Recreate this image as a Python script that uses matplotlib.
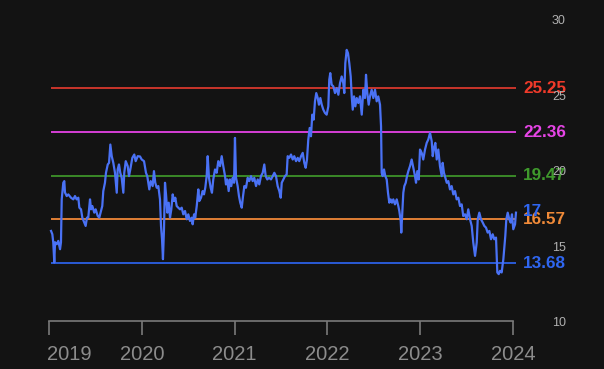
import matplotlib
matplotlib.use("Agg")
import matplotlib.pyplot as plt
import matplotlib.transforms as mtransforms

# decimal-year time axis and price values
t = [2019.022, 2019.036, 2019.046, 2019.057, 2019.065, 2019.083, 2019.100, 2019.119, 2019.129, 2019.137,
     2019.154, 2019.165, 2019.172, 2019.191, 2019.208, 2019.237, 2019.262, 2019.280, 2019.298, 2019.316,
     2019.327, 2019.345, 2019.359, 2019.380, 2019.395, 2019.409, 2019.423, 2019.442, 2019.453, 2019.467,
     2019.488, 2019.503, 2019.525, 2019.542, 2019.560, 2019.574, 2019.585, 2019.603, 2019.614, 2019.633,
     2019.647, 2019.661, 2019.676, 2019.693, 2019.711, 2019.730, 2019.740, 2019.754, 2019.768, 2019.783,
     2019.801, 2019.811, 2019.827, 2019.848, 2019.862, 2019.876, 2019.898, 2019.919, 2019.934, 2019.956,
     2019.981, 2019.999, 2020.024, 2020.045, 2020.059, 2020.081, 2020.096, 2020.117, 2020.131, 2020.145,
     2020.161, 2020.178, 2020.196, 2020.207, 2020.218, 2020.228, 2020.239, 2020.250, 2020.261, 2020.275,
     2020.290, 2020.304, 2020.318, 2020.333, 2020.347, 2020.361, 2020.376, 2020.393, 2020.412, 2020.430,
     2020.447, 2020.466, 2020.484, 2020.501, 2020.519, 2020.538, 2020.548, 2020.563, 2020.576, 2020.592,
     2020.609, 2020.620, 2020.638, 2020.656, 2020.670, 2020.684, 2020.699, 2020.710, 2020.724, 2020.742,
     2020.756, 2020.770, 2020.789, 2020.807, 2020.824, 2020.843, 2020.861, 2020.878, 2020.897, 2020.907,
     2020.921, 2020.936, 2020.950, 2020.964, 2020.980, 2020.994, 2021.004, 2021.015, 2021.033, 2021.047,
     2021.061, 2021.077, 2021.091, 2021.105, 2021.123, 2021.141, 2021.158, 2021.177, 2021.195, 2021.212,
     2021.231, 2021.249, 2021.266, 2021.284, 2021.303, 2021.320, 2021.335, 2021.352, 2021.371, 2021.392,
     2021.411, 2021.428, 2021.446, 2021.464, 2021.482, 2021.497, 2021.508, 2021.525, 2021.543, 2021.561,
     2021.572, 2021.589, 2021.608, 2021.626, 2021.643, 2021.662, 2021.680, 2021.697, 2021.716, 2021.734,
     2021.751, 2021.766, 2021.780, 2021.794, 2021.809, 2021.823, 2021.837, 2021.852, 2021.866, 2021.880,
     2021.896, 2021.909, 2021.924, 2021.939, 2021.956, 2021.974, 2021.992, 2022.010, 2022.020, 2022.031,
     2022.046, 2022.064, 2022.082, 2022.100, 2022.118, 2022.136, 2022.154, 2022.171, 2022.182, 2022.193,
     2022.208, 2022.222, 2022.236, 2022.251, 2022.262, 2022.273, 2022.287, 2022.301, 2022.316, 2022.333,
     2022.351, 2022.370, 2022.387, 2022.405, 2022.416, 2022.430, 2022.445, 2022.459, 2022.477, 2022.495,
     2022.513, 2022.531, 2022.548, 2022.567, 2022.578, 2022.585, 2022.596, 2022.610, 2022.624, 2022.639,
     2022.653, 2022.667, 2022.682, 2022.696, 2022.710, 2022.728, 2022.747, 2022.764, 2022.775, 2022.790,
     2022.796, 2022.807, 2022.818, 2022.829, 2022.844, 2022.858, 2022.872, 2022.890, 2022.908, 2022.926,
     2022.944, 2022.955, 2022.969, 2022.984, 2022.998, 2023.016, 2023.033, 2023.052, 2023.070, 2023.087,
     2023.106, 2023.124, 2023.135, 2023.149, 2023.163, 2023.178, 2023.195, 2023.213, 2023.232, 2023.242,
     2023.256, 2023.271, 2023.286, 2023.303, 2023.321, 2023.339, 2023.357, 2023.375, 2023.393, 2023.411,
     2023.429, 2023.447, 2023.464, 2023.483, 2023.501, 2023.518, 2023.537, 2023.555, 2023.572, 2023.591,
     2023.609, 2023.620, 2023.637, 2023.655, 2023.674, 2023.691, 2023.709, 2023.727, 2023.745, 2023.763,
     2023.781, 2023.798, 2023.817, 2023.831, 2023.846, 2023.860, 2023.878, 2023.896, 2023.906, 2023.917,
     2023.928, 2023.943, 2023.960, 2023.975, 2023.989, 2024.003, 2024.022, 2024.032]

price = [15.81, 15.59, 15.04, 13.72, 15.06, 14.93, 15.15, 14.60, 15.06, 17.90,
         19.00, 19.11, 18.36, 18.12, 18.23, 18.01, 17.90, 18.12, 17.90, 18.01,
         17.35, 17.24, 16.69, 16.36, 16.14, 16.69, 16.69, 17.90, 17.24, 17.46,
         17.02, 17.24, 16.80, 16.69, 17.13, 17.46, 18.45, 19.00, 19.66, 20.21,
         20.32, 21.53, 20.76, 20.32, 19.66, 18.34, 19.88, 20.21, 19.66, 19.33,
         18.34, 19.66, 20.43, 20.10, 19.44, 19.88, 20.65, 20.87, 20.43, 20.76,
         20.74, 20.54, 20.43, 19.66, 19.44, 18.56, 19.11, 18.78, 19.77, 19.00,
         18.67, 18.78, 17.90, 16.14, 15.26, 13.94, 15.92, 19.00, 18.23, 17.02,
         17.68, 16.69, 17.24, 18.23, 17.79, 18.01, 17.46, 17.35, 17.24, 17.35,
         16.91, 17.13, 16.58, 16.91, 16.47, 16.69, 16.25, 16.91, 16.69, 17.46,
         18.56, 17.79, 18.01, 18.45, 18.23, 18.67, 19.44, 20.76, 19.33, 18.67,
         18.34, 19.22, 19.88, 19.66, 20.43, 20.10, 20.76, 20.10, 19.44, 18.89,
         19.22, 18.45, 19.22, 18.78, 19.33, 19.00, 21.97, 19.35, 18.78, 18.12,
         17.68, 17.35, 18.12, 18.78, 18.67, 19.33, 19.11, 19.44, 19.11, 19.33,
         18.78, 19.22, 18.89, 19.44, 19.66, 20.21, 19.44, 19.22, 19.33, 19.22,
         19.44, 19.66, 19.44, 18.78, 18.45, 18.01, 19.00, 19.22, 19.44, 19.55,
         20.76, 20.65, 20.87, 20.54, 20.76, 20.43, 20.65, 20.43, 20.76, 20.98,
         20.32, 19.99, 20.54, 21.86, 22.63, 22.08, 23.51, 23.18, 24.39, 24.94,
         24.61, 24.17, 24.61, 24.17, 23.84, 23.62, 23.51, 24.06, 25.82, 26.26,
         25.49, 25.38, 24.94, 25.27, 24.83, 25.60, 26.04, 25.60, 24.94, 26.92,
         27.80, 27.58, 26.92, 26.04, 24.72, 23.84, 24.72, 24.06, 24.61, 24.28,
         24.72, 23.51, 25.16, 24.61, 26.15, 24.94, 24.17, 24.72, 25.16, 24.61,
         25.16, 24.39, 24.72, 24.17, 22.74, 19.66, 19.44, 19.88, 19.44, 19.22,
         18.34, 17.68, 17.90, 17.68, 17.90, 17.57, 17.90, 17.46, 17.13, 16.47,
         15.70, 17.02, 18.34, 18.78, 19.00, 19.44, 19.77, 20.10, 20.54, 19.99,
         19.44, 19.00, 19.77, 19.22, 21.20, 20.98, 20.54, 21.20, 21.64, 21.86,
         22.30, 21.75, 20.76, 21.31, 21.64, 20.54, 21.20, 20.10, 19.44, 20.32,
         19.66, 19.33, 19.00, 19.11, 18.56, 18.78, 18.23, 18.45, 17.90, 18.01,
         17.46, 17.57, 16.80, 16.91, 16.58, 17.24, 16.58, 16.14, 15.04, 14.16,
         15.04, 16.58, 17.02, 16.58, 16.36, 16.14, 16.03, 15.70, 15.81, 15.26,
         15.59, 15.26, 15.37, 13.06, 12.95, 13.17, 13.06, 13.94, 14.71, 15.48,
         16.58, 17.02, 16.58, 16.36, 16.91, 15.92, 16.25, 17.02]

levels = [25.25, 22.36, 19.47, 16.57, 13.68]
level_line_colors = ["#c9352b", "#d63fd6", "#3b8a28", "#e07f35", "#2a5ad6"]
level_text_colors = ["#f03a2a", "#e645e6", "#3f9a2c", "#f08a38", "#2f66f0"]
year_ticks = [2019, 2020, 2021, 2022, 2023, 2024]
y_ticks = [10, 15, 20, 25, 30]

BG = "#131313"
W, H = 604, 369
fig = plt.figure(figsize=(W / 100, H / 100), dpi=100, facecolor=BG)

# axes in pixel coords: left 40, right 520, top 10, bottom 321
L, R, T, B = 40, 520, 10, 321
ax = fig.add_axes([L / W, 1 - B / H, (R - L) / W, (B - T) / H])
ax.set_facecolor(BG)

px_per_year = 92.8
ax.set_xlim(2019 - (49 - L) / px_per_year, 2019 + (R - 49) / px_per_year)
px_per_unit = 15.15
v_at_0 = 31.1
ax.set_ylim(v_at_0 - (B + 1) / px_per_unit, v_at_0 - T / px_per_unit)

for lv, lc, tc in zip(levels, level_line_colors, level_text_colors):
    ax.hlines(lv, t[0], t[-1], colors=lc, linewidth=1.4, zorder=2)
    ax.text(t[-1] + 0.075, lv, f"{lv:.2f}", color=tc, fontsize=12.3, fontweight="bold",
            family="Liberation Sans", va="center", ha="left", clip_on=False, zorder=1)

ax.plot(t, price, color="#4a72f5", linewidth=1.6, solid_joinstyle="round", zorder=3)
ax.text(t[-1] + 0.075, price[-1] + 0.05, f"{price[-1]:.0f}", color="#2f66f0", fontsize=12.3,
        fontweight="bold", family="Liberation Sans", va="center", ha="left", clip_on=False, zorder=1)

for s in ["top", "left", "right"]:
    ax.spines[s].set_visible(False)
ax.spines["bottom"].set_color("#7a7a7a")
ax.spines["bottom"].set_linewidth(1.2)
ax.spines["bottom"].set_bounds(year_ticks[0], year_ticks[-1])

ax.set_xticks(year_ticks)
ax.set_xticklabels([str(y) for y in year_ticks])
ax.tick_params(axis="x", colors="#7a7a7a", length=10, width=1.2, labelsize=14.5,
               labelcolor="#8c8c8c", pad=7)
for lbl in ax.get_xticklabels():
    lbl.set_family("Liberation Sans")
xl = ax.get_xticklabels()
xl[0].set_horizontalalignment("left")
xl[0].set_transform(xl[0].get_transform() + mtransforms.ScaledTranslation(-2 / 100, 0, fig.dpi_scale_trans))

ax.yaxis.tick_right()
ax.set_yticks(y_ticks)
ax.set_yticklabels([str(v) for v in y_ticks])
ax.tick_params(axis="y", length=0, labelsize=9, labelcolor="#b0b0b0", pad=23)
for lbl in ax.get_yticklabels():
    lbl.set_family("Liberation Sans")
    lbl.set_transform(lbl.get_transform() + mtransforms.ScaledTranslation(0, -3 / 100, fig.dpi_scale_trans))
ax.yaxis.set_zorder(2.5)

fig.savefig("out.png", dpi=100, facecolor=BG)
